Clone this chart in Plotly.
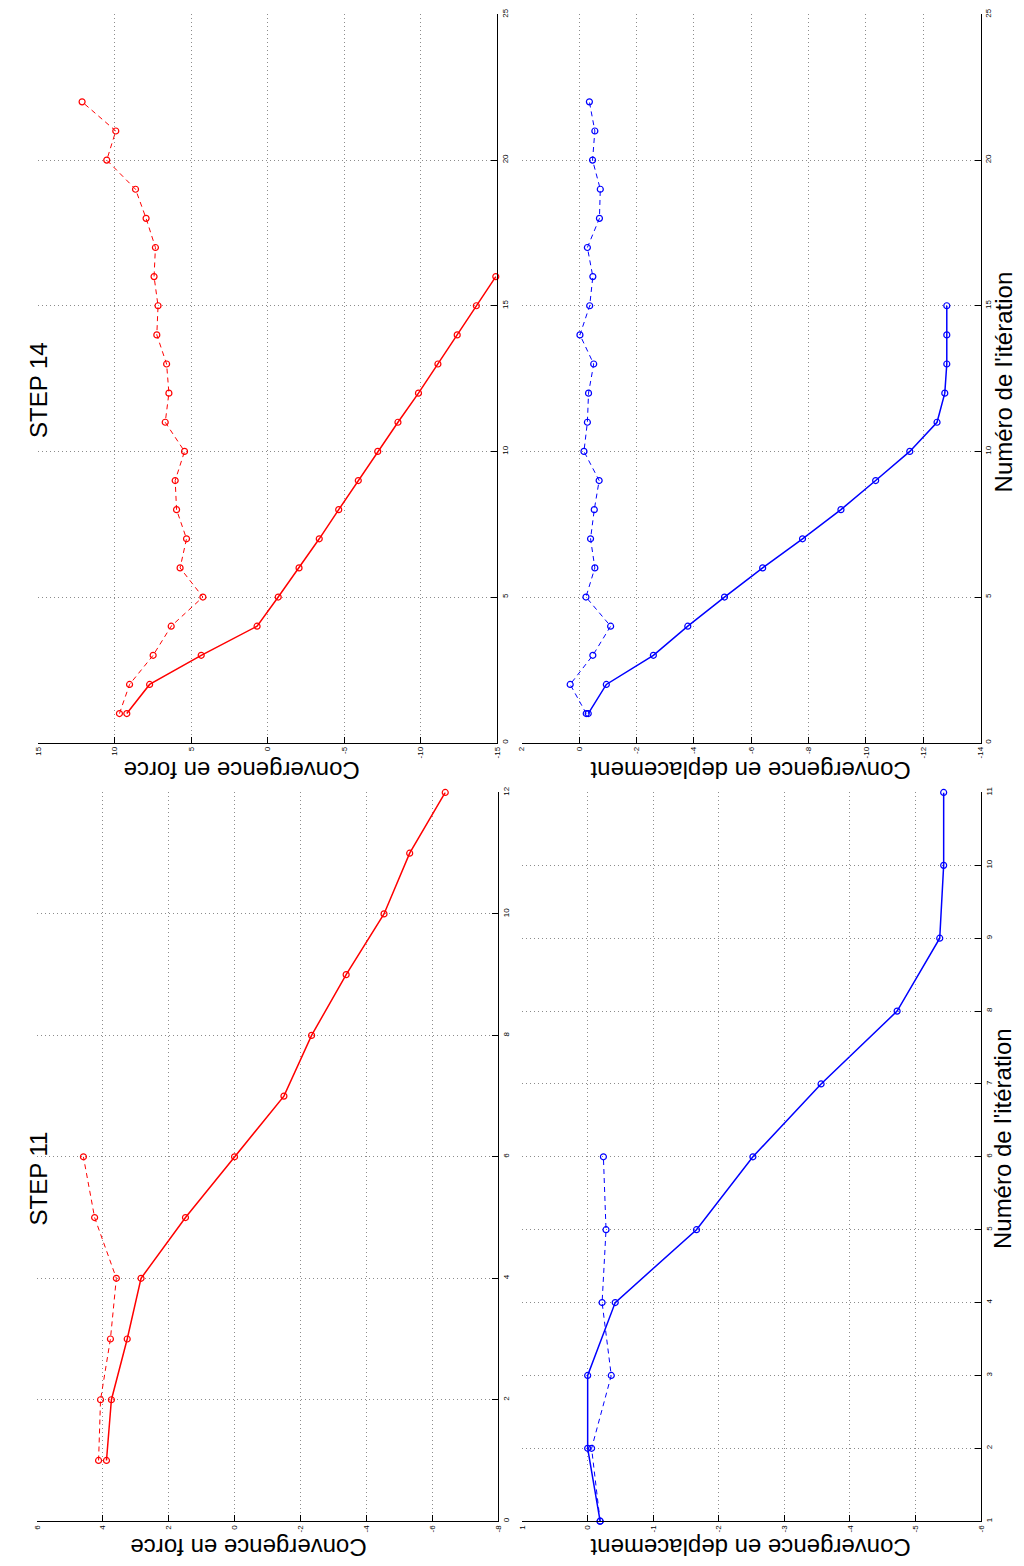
import plotly.graph_objects as go

# ---------------- data ----------------
# STEP 14
f14_iter_solid = list(range(1, 17))
f14_solid = [9.20, 7.71, 4.34, 0.69, -0.69, -2.05, -3.37, -4.64, -5.92, -7.19,
             -8.51, -9.85, -11.12, -12.38, -13.63, -14.90]
f14_iter_dashed = list(range(1, 23))
f14_dashed = [9.68, 9.02, 7.48, 6.30, 4.23, 5.72, 5.30, 5.95, 6.04, 5.43, 6.69,
              6.45, 6.60, 7.24, 7.16, 7.42, 7.33, 7.94, 8.63, 10.51, 9.92, 12.12]
d14_iter_solid = list(range(1, 16))
d14_solid = [-0.32, -0.95, -2.59, -3.79, -5.07, -6.40, -7.79, -9.13, -10.34,
             -11.53, -12.48, -12.75, -12.82, -12.82, -12.82]
d14_iter_dashed = list(range(1, 23))
d14_dashed = [-0.25, 0.31, -0.48, -1.10, -0.24, -0.55, -0.40, -0.53, -0.70, -0.17,
              -0.29, -0.33, -0.51, -0.03, -0.37, -0.48, -0.29, -0.71, -0.74, -0.47,
              -0.55, -0.36]
# STEP 11
f11_iter_solid = list(range(1, 13))
f11_solid = [3.89, 3.74, 3.26, 2.84, 1.49, 0.0, -1.50, -2.34, -3.39, -4.54, -5.32, -6.40]
f11_iter_dashed = list(range(1, 7))
f11_dashed = [4.13, 4.07, 3.77, 3.59, 4.25, 4.59]
d11_iter_solid = list(range(1, 12))
d11_solid = [-0.19, 0.0, 0.0, -0.42, -1.66, -2.52, -3.56, -4.72, -5.37, -5.43, -5.43]
d11_iter_dashed = list(range(1, 7))
d11_dashed = [-0.19, -0.06, -0.36, -0.22, -0.28, -0.24]

# axis ticks
f14_vticks = [15, 10, 5, 0, -5, -10, -15]
d14_vticks = [2, 0, -2, -4, -6, -8, -10, -12, -14]
f11_vticks = [6, 4, 2, 0, -2, -4, -6, -8]
d11_vticks = [1, 0, -1, -2, -3, -4, -5, -6]
iter14_ticks = [0, 5, 10, 15, 20, 25]
iter11f_ticks = [0, 2, 4, 6, 8, 10, 12]
iter11d_ticks = list(range(1, 12))

titles = ["STEP 14", "STEP 11"]
ylab_force = "Convergence en force"
ylab_depl = "Convergence en deplacement"
xlab = "Numéro de l'itération"

# ---------------- layout helpers ----------------
W, H = 1024, 1566
FONT = "Liberation Sans, Arial, sans-serif"
RED = "#ff0000"
BLUE = "#0000ff"


def px_x(x):
    return x / W


def px_y(y):
    return 1 - y / H


fig = go.Figure()

panels = [
    # (axis index, x pixel range, y pixel range (top,bottom), value range, iter range, vticks, iticks)
    (1, (34.3, 497.7), (8.5, 740), [15, -15], [0, 25], f14_vticks, iter14_ticks),
    (2, (522.3, 985.3), (8.5, 740), [2, -14], [0, 25], d14_vticks, iter14_ticks),
    (3, (33.3, 498.3), (790, 1522), [6, -8], [0, 12], f11_vticks, iter11f_ticks),
    (4, (522.7, 985.7), (790, 1522), [1, -6], [1, 11], d11_vticks, iter11d_ticks),
]

common = dict(
    tickangle=-90,
    ticks="inside",
    ticklen=6,
    tickcolor="black",
    tickfont=dict(family=FONT, size=8, color="black"),
    showline=True,
    linecolor="black",
    linewidth=1,
    mirror=False,
    showgrid=True,
    gridcolor="#8c8c8c",
    gridwidth=1,
    griddash="1px,3px",
    zeroline=False,
    fixedrange=True,
)

layout_axes = {}
for idx, xr, yr, vrange, irange, vt, it in panels:
    sx = "" if idx == 1 else str(idx)
    layout_axes["xaxis" + sx] = dict(
        domain=[px_x(xr[0]), px_x(xr[1])],
        range=vrange,
        anchor="y" + sx,
        side="bottom",
        tickvals=vt,
        ticktext=[str(v) for v in vt],
        **common,
    )
    layout_axes["yaxis" + sx] = dict(
        domain=[px_y(yr[1]), px_y(yr[0])],
        range=irange,
        anchor="x" + sx,
        side="right",
        tickvals=it,
        ticktext=[str(v) for v in it],
        **common,
    )


def add_series(idx, xs, ys, color, dashed):
    sx = "" if idx == 1 else str(idx)
    fig.add_trace(go.Scatter(
        x=xs, y=ys, xaxis="x" + sx, yaxis="y" + sx,
        mode="lines+markers",
        line=dict(color=color, width=1 if dashed else 1.5,
                  dash="5px,4px" if dashed else "solid"),
        marker=dict(symbol="circle-open", size=6, color=color,
                    line=dict(color=color, width=1.2)),
        showlegend=False, hoverinfo="skip", cliponaxis=False,
    ))


add_series(1, f14_solid, f14_iter_solid, RED, False)
add_series(1, f14_dashed, f14_iter_dashed, RED, True)
add_series(2, d14_solid, d14_iter_solid, BLUE, False)
add_series(2, d14_dashed, d14_iter_dashed, BLUE, True)
add_series(3, f11_solid, f11_iter_solid, RED, False)
add_series(3, f11_dashed, f11_iter_dashed, RED, True)
add_series(4, d11_solid, d11_iter_solid, BLUE, False)
add_series(4, d11_dashed, d11_iter_dashed, BLUE, True)

ann_font = dict(family=FONT, size=24, color="black")
annotations = [
    dict(text=titles[0], x=px_x(35), y=px_y(386), textangle=-90),
    dict(text=titles[1], x=px_x(35), y=px_y(1178), textangle=-90),
    dict(text=xlab, x=px_x(1008), y=px_y(378), textangle=-90),
    dict(text=xlab, x=px_x(1008), y=px_y(1138), textangle=-90),
    dict(text=ylab_force, x=px_x(240), y=px_y(768), textangle=180),
    dict(text=ylab_depl, x=px_x(753), y=px_y(768), textangle=180),
    dict(text=ylab_force, x=px_x(247), y=px_y(1549), textangle=180),
    dict(text=ylab_depl, x=px_x(753), y=px_y(1549), textangle=180),
]
for a in annotations:
    a.update(xref="paper", yref="paper", showarrow=False, font=ann_font,
             xanchor="center", yanchor="middle")

fig.update_layout(
    width=W, height=H, autosize=False,
    margin=dict(l=0, r=0, t=0, b=0, pad=0),
    paper_bgcolor="white", plot_bgcolor="white",
    annotations=annotations,
    **layout_axes,
)

fig.write_html(
    "out.html",
    config={"displayModeBar": False},
    post_script="document.body.style.margin='0';document.body.style.overflow='hidden';",
)
